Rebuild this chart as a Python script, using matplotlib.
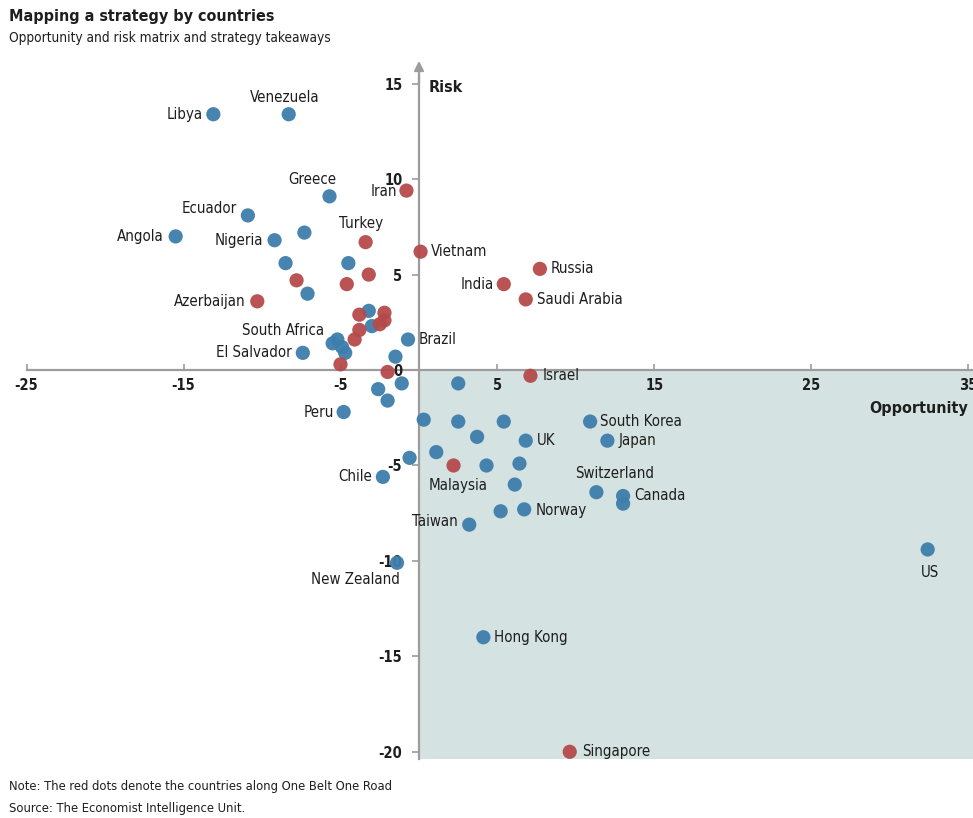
import matplotlib.pyplot as plt
from matplotlib import patches

plt.rcParams["font.family"] = ["DejaVu Sans"]
plt.rcParams["font.stretch"] = "condensed"
plt.rcParams["axes.unicode_minus"] = False

# countries that carry a label
names = [
    "Libya", "Venezuela", "Greece", "Ecuador", "Angola", "Nigeria",
    "South Africa", "El Salvador", "Brazil", "Peru", "South Korea", "UK",
    "Japan", "Switzerland", "Canada", "Norway", "Taiwan", "Chile",
    "New Zealand", "Hong Kong", "US",
    "Iran", "Turkey", "Vietnam", "Russia", "India", "Saudi Arabia",
    "Azerbaijan", "Israel", "Malaysia", "Singapore",
]
opportunity = [
    -13.1, -8.3, -5.7, -10.9, -15.5, -9.2,
    -5.2, -7.4, -0.7, -4.8, 10.9, 6.8,
    12.0, 11.3, 13.0, 6.7, 3.2, -2.3,
    -1.4, 4.1, 32.4,
    -0.8, -3.4, 0.1, 7.7, 5.4, 6.8,
    -10.3, 7.1, 2.2, 9.6,
]
risk = [
    13.4, 13.4, 9.1, 8.1, 7.0, 6.8,
    1.6, 0.9, 1.6, -2.2, -2.7, -3.7,
    -3.7, -6.4, -6.6, -7.3, -8.1, -5.6,
    -10.1, -14.0, -9.4,
    9.4, 6.7, 6.2, 5.3, 4.5, 3.7,
    3.6, -0.3, -5.0, -20.0,
]
belt_road = [False] * 21 + [True] * 10

# unlabelled countries
blue_x = [-7.3, -8.5, -4.5, -7.1, -3.2, -3.0, -5.5, -4.9, -4.7, -1.5,
          -1.1, -2.6, -2.0, 2.5, 0.3, 2.5, 5.4, 3.7, 1.1, -0.6,
          4.3, 6.4, 6.1, 13.0, 5.2]
blue_y = [7.2, 5.6, 5.6, 4.0, 3.1, 2.3, 1.4, 1.2, 0.9, 0.7,
          -0.7, -1.0, -1.6, -0.7, -2.6, -2.7, -2.7, -3.5, -4.3, -4.6,
          -5.0, -4.9, -6.0, -7.0, -7.4]
red_x = [-3.2, -7.8, -4.6, -3.8, -2.2, -2.2, -2.5, -3.8, -4.1, -5.0, -2.0]
red_y = [5.0, 4.7, 4.5, 2.9, 3.0, 2.6, 2.4, 2.1, 1.6, 0.3, -0.1]

x_ticks = [-25, -15, -5, 5, 15, 25, 35]
y_ticks = [-20, -15, -10, -5, 0, 5, 10, 15]

BLUE = "#3d7eac"
RED = "#b54a4b"
SHADE = "#d4e3e1"
AXIS = "#9c9c9c"
INK = "#1e1e1e"

# label placement: (dx, dy) in pixels, horizontal alignment
label_pos = {
    "Libya": (-11, 0, "right"), "Venezuela": (-4, 17, "center"),
    "Greece": (-17, 17, "center"), "Ecuador": (-11, 7, "right"),
    "Angola": (-12, 0, "right"), "Nigeria": (-11, 0, "right"),
    "South Africa": (-13, 9, "right"), "El Salvador": (-11, 0, "right"),
    "Brazil": (11, 0, "left"), "Peru": (-10, 0, "right"),
    "South Korea": (10, 0, "left"), "UK": (11, 0, "left"),
    "Japan": (11, 0, "left"), "Switzerland": (18, 19, "center"),
    "Canada": (11, 1, "left"), "Norway": (11, -1, "left"),
    "Taiwan": (-11, 3, "right"), "Chile": (-11, 0, "right"),
    "New Zealand": (-42, -17, "center"), "Hong Kong": (11, 0, "left"),
    "US": (2, -23, "center"), "Iran": (-9, -1, "right"),
    "Turkey": (-5, 19, "center"), "Vietnam": (10, 0, "left"),
    "Russia": (11, 0, "left"), "India": (-10, 0, "right"),
    "Saudi Arabia": (11, 0, "left"), "Azerbaijan": (-12, 0, "right"),
    "Israel": (12, 0, "left"), "Malaysia": (5, -20, "center"),
    "Singapore": (12, 0, "left"),
}


def main() -> None:
    fig = plt.figure(figsize=(9.73, 8.18), dpi=100)
    ax = fig.add_axes((0.0095, 0.0716, 0.9907, 0.8494))
    ax.set_xlim(-26.1, 35.3)
    ax.set_ylim(-20.4, 16.0)

    ax.add_patch(patches.Rectangle((0, -20.4), 35.3, 20.4,
                                   facecolor=SHADE, edgecolor="none", zorder=0))

    for side in ("top", "right"):
        ax.spines[side].set_visible(False)
    for side in ("left", "bottom"):
        ax.spines[side].set_position("zero")
        ax.spines[side].set_color(AXIS)
        ax.spines[side].set_linewidth(1.6)
        ax.spines[side].set_zorder(1)
    ax.spines["bottom"].set_bounds(-25, 35.3)
    ax.spines["left"].set_bounds(-20.4, 15.4)
    ax.annotate("", xy=(0, 16.2), xytext=(0, 15.0), annotation_clip=False,
                arrowprops=dict(arrowstyle="-|>", color=AXIS, lw=1.6,
                                mutation_scale=14, shrinkA=0, shrinkB=0))

    ax.set_xticks(x_ticks)
    ax.set_yticks(y_ticks)
    ax.tick_params(axis="x", direction="in", length=4, width=1.2,
                   color=AXIS, pad=6, labelsize=10.5, labelcolor=INK)
    ax.tick_params(axis="y", direction="out", length=5, width=1.2,
                   color=AXIS, pad=7, labelsize=10.5, labelcolor=INK)
    for lab in ax.get_xticklabels() + ax.get_yticklabels():
        lab.set_fontweight("bold")

    ax.scatter(blue_x, blue_y, s=105, color=BLUE, edgecolors="none",
               alpha=0.95, zorder=3)
    ax.scatter(red_x, red_y, s=105, color=RED, edgecolors="none",
               alpha=0.95, zorder=3)
    colours = [RED if r else BLUE for r in belt_road]
    ax.scatter(opportunity, risk, s=105, c=colours, edgecolors="none",
               alpha=0.95, zorder=3)

    for name, x, y in zip(names, opportunity, risk):
        dx, dy, ha = label_pos[name]
        ax.annotate(name, (x, y), xytext=(dx, dy), textcoords="offset pixels",
                    ha=ha, va="center", fontsize=10.8, color=INK, zorder=4)

    ax.text(0.6, 14.8, "Risk", fontsize=11.5, fontweight="bold", color=INK,
            va="center", ha="left")
    ax.text(35.0, -2.0, "Opportunity", fontsize=11.5, fontweight="bold",
            color=INK, va="center", ha="right")

    fig.text(0.009, 0.980, "Mapping a strategy by countries", fontsize=11.5,
             fontweight="bold", color=INK, va="center")
    fig.text(0.009, 0.954, "Opportunity and risk matrix and strategy takeaways",
             fontsize=9.8, color=INK, va="center")
    fig.text(0.009, 0.038,
             "Note: The red dots denote the countries along One Belt One Road",
             fontsize=9.3, color=INK, va="center")
    fig.text(0.009, 0.012, "Source: The Economist Intelligence Unit.",
             fontsize=9.3, color=INK, va="center")

    fig.savefig("out.png", dpi=100, facecolor="white")


if __name__ == "__main__":
    main()
